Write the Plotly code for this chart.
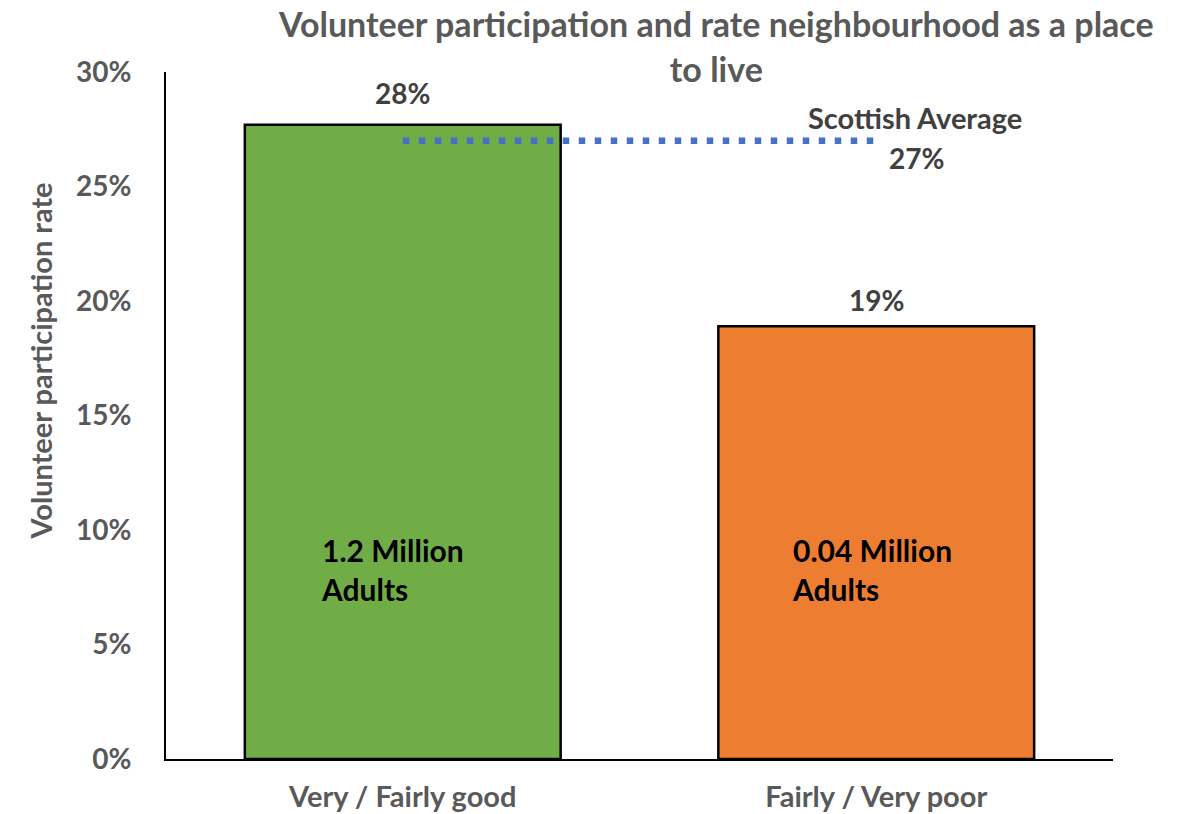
import plotly.graph_objects as go

# Volunteering rate by how people rate their neighbourhood
categories = ["Very / Fairly good", "Fairly / Very poor"]
rates = [27.7, 18.9]
adults_millions = ["1.2", "0.04"]
bar_colors = ["#70AD47", "#ED7D31"]
scottish_average = 27.0
y_ticks = [0, 5, 10, 15, 20, 25, 30]
y_tick_labels = [f"{t}%" for t in y_ticks]

FONT = "Lato"
GREY = "#595959"
DARK = "#404040"

fig = go.Figure()

fig.add_trace(go.Bar(
    x=categories,
    y=rates,
    marker=dict(color=bar_colors, line=dict(color="black", width=2.5)),
    showlegend=False,
    hoverinfo="skip",
))

# Scottish average reference line, dotted across both bars
fig.add_trace(go.Scatter(
    x=categories,
    y=[scottish_average] * len(categories),
    mode="lines",
    line=dict(color="#4472C4", width=6.5, dash="6.5px,9.5px"),
    showlegend=False,
    hoverinfo="skip",
))

annotations = []

# Value labels above the bars
label_shift = [32, 26]
for cat, val, dy in zip(categories, rates, label_shift):
    annotations.append(dict(
        x=cat, y=val, xref="x", yref="y",
        text=f"{val:.0f}%", showarrow=False,
        yshift=dy, yanchor="middle",
        font=dict(family=FONT, size=28, color=DARK, weight="bold"),
    ))

# Number of adults inside each bar
inner_shift = [-84, -86]
for cat, adults, dx in zip(categories, adults_millions, inner_shift):
    annotations.append(dict(
        x=cat, y=0.2753, xref="x", yref="paper",
        text=f"{adults} Million<br>Adults", showarrow=False,
        xanchor="left", yanchor="middle", align="left", xshift=dx,
        font=dict(family=FONT, size=30, color="black", weight="bold"),
    ))

# Scottish average label
annotations.append(dict(
    x=categories[1], y=scottish_average, xref="x", yref="y",
    text="Scottish Average", showarrow=False,
    xshift=39, yshift=23, yanchor="middle",
    font=dict(family=FONT, size=29, color=DARK, weight="bold"),
))
annotations.append(dict(
    x=categories[1], y=scottish_average, xref="x", yref="y",
    text=f"{scottish_average:.0f}%", showarrow=False,
    xshift=40, yshift=-17, yanchor="middle",
    font=dict(family=FONT, size=28, color=DARK, weight="bold"),
))

# Y axis title
annotations.append(dict(
    x=-0.132, y=0.580, xref="paper", yref="paper",
    text="Volunteer participation rate", showarrow=False, textangle=-90,
    xanchor="center", yanchor="middle",
    font=dict(family=FONT, size=29, color=GREY, weight="bold"),
))

fig.update_layout(
    width=1184, height=814,
    margin=dict(l=166, r=71, t=72, b=55, autoexpand=False),
    paper_bgcolor="white", plot_bgcolor="white",
    bargap=0.333,
    title=dict(
        text="Volunteer participation and rate neighbourhood as a place<br>to live",
        x=0.605, xanchor="center", y=0.954, yanchor="middle",
        font=dict(family=FONT, size=34, color=GREY, weight="bold"),
    ),
    annotations=annotations,
    xaxis=dict(
        showline=True, linecolor="black", linewidth=2,
        showgrid=False, zeroline=False, ticks="", automargin=False,
        ticklabelstandoff=11,
        tickfont=dict(family=FONT, size=29, color=GREY, weight="bold"),
    ),
    yaxis=dict(
        range=[0, 30], tickvals=y_ticks, ticktext=y_tick_labels,
        showline=True, linecolor="black", linewidth=2,
        showgrid=False, zeroline=False, ticks="", automargin=False,
        ticklabelstandoff=27,
        tickfont=dict(family=FONT, size=28, color=GREY, weight="bold"),
    ),
)

fig.write_html("out.html")
